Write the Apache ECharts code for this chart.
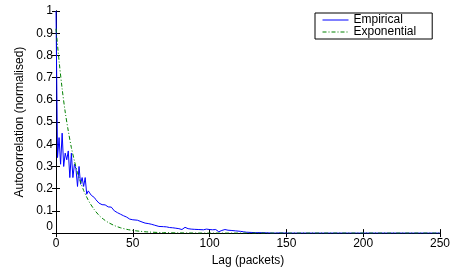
<!DOCTYPE html>
<html>
<head>
<meta charset="utf-8">
<script src="https://cdn.jsdelivr.net/npm/echarts@6/dist/echarts.min.js"></script>
<style>
html,body{margin:0;padding:0;background:#fff;}
#c{width:453px;height:272px;}
</style>
</head>
<body>
<div id="c"></div>
<script>
// ---- data ----
const xTicks = [0, 50, 100, 150, 200, 250];
const yTicks = [0, 0.1, 0.2, 0.3, 0.4, 0.5, 0.6, 0.7, 0.8, 0.9, 1];
const seriesNames = ['Empirical', 'Exponential'];

const empLag = [0, 1, 2, 3, 4, 5, 6, 7, 8, 9, 10, 11, 12, 13, 14, 15, 16, 17, 18, 19, 20,
  21, 22, 23, 24, 25, 26, 27, 28, 29, 30, 31, 32, 33, 34, 35, 36, 37, 38, 39, 40,
  41, 42, 44, 46, 48, 50, 51, 53, 54, 56, 58, 60, 62, 64, 67, 70, 72, 74, 76, 78, 80,
  82, 84, 86, 88, 90, 93, 96, 98, 100, 102, 104, 106, 108, 110, 112, 114, 117, 120,
  122, 124, 127, 130, 134, 138, 142, 146, 150, 200, 250];
const empVal = [1.0, 0.34, 0.43, 0.31, 0.45, 0.30, 0.36, 0.33, 0.37, 0.25, 0.36, 0.25, 0.31, 0.29, 0.21, 0.30, 0.22, 0.25, 0.21, 0.25, 0.175,
  0.19, 0.18, 0.17, 0.165, 0.16, 0.15, 0.145, 0.135, 0.14, 0.128, 0.125, 0.127, 0.12, 0.118, 0.115, 0.117, 0.11, 0.1, 0.095, 0.092,
  0.088, 0.085, 0.078, 0.072, 0.063, 0.06, 0.056, 0.058, 0.052, 0.05, 0.045, 0.043, 0.04, 0.036, 0.03, 0.029, 0.028, 0.025, 0.024, 0.022, 0.02,
  0.016, 0.026, 0.02, 0.018, 0.017, 0.016, 0.015, 0.018, 0.016, 0.015, 0.016, 0.006, 0.012, 0.016, 0.013, 0.012, 0.01, 0.008,
  0.006, 0.004, 0.003, 0.002, 0.002, 0.001, 0.0, 0.001, 0.0, 0.0, 0.0];

const expLag = [0, 2, 4, 6, 8, 10, 12, 14, 16, 18, 20, 22, 25, 28, 31, 34, 38, 42, 46, 50, 55, 60, 70, 80, 100, 150, 200, 250];
const expVal = [0.92, 0.775, 0.65, 0.545, 0.46, 0.385, 0.325, 0.272, 0.23, 0.192, 0.162, 0.136, 0.105, 0.08, 0.062, 0.048, 0.034, 0.024, 0.017, 0.012, 0.008, 0.005, 0.002, 0.001, 0.0, 0.0, 0.0, 0.0];

// ---- chart ----
const FONT = 'Liberation Sans, Arial, Helvetica, sans-serif';
const chart = echarts.init(document.getElementById('c'), null, {renderer: 'canvas'});

const empData = empLag.map((x, i) => [x, empVal[i]]);
const expData = expLag.map((x, i) => [x, expVal[i]]);

const axisLineStyle = {show: true, lineStyle: {color: '#000', width: 1}};
const tickStyle = {show: true, inside: true, length: 4, lineStyle: {color: '#000', width: 1}};

chart.setOption({
  animation: false,
  backgroundColor: '#fff',
  grid: {left: 56, right: 11, top: 11, bottom: 30, containLabel: false},
  legend: {
    data: seriesNames,
    orient: 'vertical',
    left: 315,
    top: 13,
    backgroundColor: '#fff',
    borderColor: '#000',
    borderWidth: 1,
    borderRadius: 0,
    padding: [1, 16, 1, 7],
    itemWidth: 26,
    itemHeight: 12,
    itemGap: 0,
    itemStyle: {opacity: 0},
    lineStyle: {width: 1},
    textStyle: {fontFamily: FONT, fontSize: 12, color: '#000', lineHeight: 12}
  },
  xAxis: [{
    type: 'value', min: xTicks[0], max: xTicks[xTicks.length - 1], interval: xTicks[1] - xTicks[0],
    position: 'bottom',
    name: 'Lag (packets)', nameLocation: 'middle', nameGap: 15,
    nameTextStyle: {fontFamily: FONT, fontSize: 12, color: '#000'},
    axisLine: axisLineStyle, axisTick: tickStyle,
    axisLabel: {fontFamily: FONT, fontSize: 12, color: '#000', margin: 5},
    splitLine: {show: false}
  }, {
    type: 'value', min: xTicks[0], max: xTicks[xTicks.length - 1], interval: xTicks[1] - xTicks[0],
    position: 'top',
    axisLine: axisLineStyle, axisTick: tickStyle,
    axisLabel: {show: false}, splitLine: {show: false}
  }],
  yAxis: [{
    type: 'value', min: yTicks[0], max: yTicks[yTicks.length - 1], interval: 0.1,
    position: 'left',
    name: 'Autocorrelation (normalised)', nameLocation: 'middle', nameGap: 30,
    nameTextStyle: {fontFamily: FONT, fontSize: 12, color: '#000'},
    axisLine: axisLineStyle, axisTick: tickStyle,
    axisLabel: {fontFamily: FONT, fontSize: 12, color: '#000', margin: 3, verticalAlignMinLabel: 'bottom',
      formatter: v => String(Math.round(v * 10) / 10)},
    splitLine: {show: false}
  }, {
    type: 'value', min: yTicks[0], max: yTicks[yTicks.length - 1], interval: 0.1,
    position: 'right',
    axisLine: axisLineStyle, axisTick: tickStyle,
    axisLabel: {show: false}, splitLine: {show: false}
  }],
  series: [{
    name: seriesNames[0], type: 'line', data: empData, symbol: 'none',
    xAxisIndex: 0, yAxisIndex: 0,
    lineStyle: {color: '#0000ff', width: 1}, itemStyle: {color: '#0000ff'},
    z: 3
  }, {
    name: seriesNames[1], type: 'line', data: expData, symbol: 'none', smooth: 0.3,
    xAxisIndex: 0, yAxisIndex: 0,
    lineStyle: {color: '#008000', width: 1, type: [4, 2, 1, 2]}, itemStyle: {color: '#008000'},
    z: 4
  }]
});
</script>
</body>
</html>
